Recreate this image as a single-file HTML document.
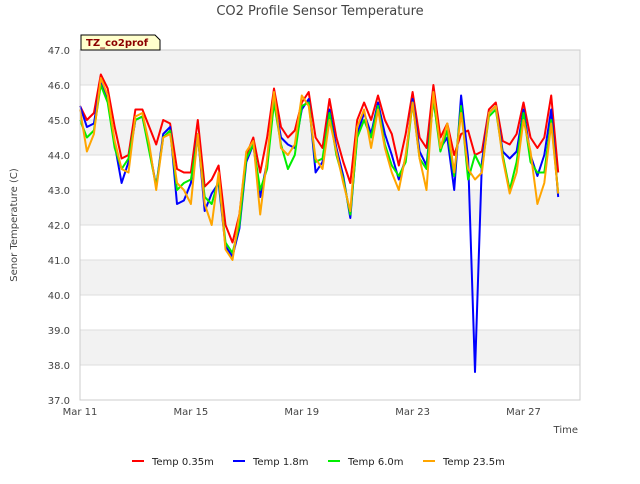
<!DOCTYPE html>
<html><head><meta charset="utf-8"><style>
body{margin:0;background:#fff;font-family:"DejaVu Sans",sans-serif}
</style></head><body>
<svg id="chart" width="640" height="480" xmlns="http://www.w3.org/2000/svg" font-family="DejaVu Sans, sans-serif">
<text x="320" y="15" text-anchor="middle" font-size="13" fill="#444">CO2 Profile Sensor Temperature</text>
<g id="bands"></g>
<g id="yticks"></g>
<g id="xticks"></g>
<g id="series"></g>
<rect x="80" y="50" width="500" height="350" fill="none" stroke="#ccc"/>
<text x="17" y="225" transform="rotate(-90 17 225)" text-anchor="middle" font-size="10" fill="#444">Senor Temperature (C)</text>
<text x="578" y="433" text-anchor="end" font-size="10" fill="#444">Time</text>
<g>
<path d="M81,50 L81,35 L155,35 L160,40 L160,50 Z" fill="#ffffcc" stroke="#000"/>
<text x="86" y="46" font-size="10" font-weight="bold" fill="#8b0000">TZ_co2prof</text>
</g>
<g id="legend"></g>
</svg>
<script>
const days=[];for(let i=0;i<70;i++)days.push(i*0.25);
const temp035=[45.4,45.0,45.2,46.3,45.9,44.8,43.9,44.0,45.3,45.3,44.8,44.3,45.0,44.9,43.6,43.5,43.5,45.0,43.1,43.3,43.7,42.0,41.5,42.3,44.0,44.5,43.5,44.5,45.9,44.8,44.5,44.7,45.5,45.8,44.5,44.2,45.6,44.5,43.8,43.2,45.0,45.5,45.0,45.7,45.0,44.6,43.7,44.6,45.8,44.5,44.2,46.0,44.5,44.9,44.0,44.6,44.7,44.0,44.1,45.3,45.5,44.4,44.3,44.6,45.5,44.5,44.2,44.5,45.7,43.5];
const temp18=[45.4,44.8,44.9,46.1,45.6,44.3,43.2,43.8,45.0,45.1,44.2,43.1,44.6,44.8,42.6,42.7,43.2,44.6,42.4,42.9,43.2,41.4,41.1,41.9,43.8,44.3,42.8,43.8,45.6,44.5,44.3,44.2,45.3,45.6,43.5,43.8,45.3,44.2,43.4,42.2,44.6,45.2,44.6,45.5,44.6,44.0,43.3,43.9,45.6,44.1,43.7,45.6,44.2,44.5,43.0,45.7,43.9,37.8,43.8,45.2,45.4,44.1,43.9,44.1,45.3,44.0,43.4,44.0,45.3,42.8];
const temp60=[45.0,44.5,44.7,46.0,45.5,44.2,43.6,43.9,45.0,45.1,44.1,43.1,44.5,44.7,43.0,43.2,43.3,44.5,42.8,42.6,43.3,41.5,41.2,42.0,43.9,44.3,43.0,43.6,45.5,44.3,43.6,44.0,45.4,45.5,43.8,43.9,45.2,44.0,43.3,42.3,44.5,45.0,44.5,45.4,44.3,43.7,43.4,43.8,45.5,43.9,43.6,45.6,44.1,44.7,43.4,45.4,43.3,44.0,43.6,45.1,45.3,44.0,43.0,43.8,45.2,43.8,43.5,43.5,45.0,42.9];
const temp235=[45.3,44.1,44.6,46.2,45.7,44.4,43.6,43.5,45.1,45.2,44.3,43.0,44.5,44.6,43.2,43.0,42.6,44.6,42.6,42.0,43.5,41.3,41.0,42.3,44.1,44.4,42.3,43.9,45.8,44.2,44.0,44.3,45.7,45.4,43.9,43.6,45.0,44.1,43.2,42.4,44.8,45.3,44.2,45.3,44.2,43.5,43.0,44.0,45.5,43.9,43.0,45.8,44.2,44.9,43.5,45.2,43.6,43.3,43.5,45.2,45.4,43.9,42.9,43.5,45.0,44.1,42.6,43.2,44.9,42.9];
const yTicks=[37,38,39,40,41,42,43,44,45,46,47];
const xTickLabels=["Mar 11","Mar 15","Mar 19","Mar 23","Mar 27"];
const xTickDays=[0,4,8,12,16];
const seriesNames=["Temp 0.35m","Temp 1.8m","Temp 6.0m","Temp 23.5m"];
const seriesColors=["#ff0000","#0000ff","#00ee00","#ffa500"];
const X=d=>80+d*27.72, Y=v=>50+(47-v)*35;
const NS="http://www.w3.org/2000/svg";
function mk(t,a,p){const e=document.createElementNS(NS,t);for(const k in a)e.setAttribute(k,a[k]);p.appendChild(e);return e;}
const bands=document.getElementById('bands');
for(let v=47;v>37;v--){if((47-v)%2===0){const r=mk('rect',{x:80,y:Y(v),width:500,height:35,fill:'#f2f2f2'},bands);

}}
const yt=document.getElementById('yticks');
yTicks.forEach(v=>{const l=mk('line',{x1:80,x2:580,y1:Y(v),y2:Y(v),stroke:'#ddd'},yt);


const t=mk('text',{x:70,y:Y(v)+4,'text-anchor':'end','font-size':10,fill:'#444'},yt);t.textContent=v.toFixed(1);

});
const xt=document.getElementById('xticks');
xTickDays.forEach((d,i)=>{const t=mk('text',{x:X(d),y:415,'text-anchor':'middle','font-size':10,fill:'#444'},xt);t.textContent=xTickLabels[i];

});
const sg=document.getElementById('series');
[temp035,temp18,temp60,temp235].forEach((arr,i)=>{const pts=arr.map((v,j)=>X(days[j]).toFixed(1)+','+Y(v).toFixed(1)).join(' ');
const p=mk('polyline',{points:pts,fill:'none',stroke:seriesColors[i],'stroke-width':2,'stroke-linejoin':'round'},sg);

});
const lg=document.getElementById('legend');
const lxs=[132,233,328,423];
seriesNames.forEach((n,i)=>{const g=mk('g',{},lg);


mk('line',{x1:lxs[i],x2:lxs[i]+12,y1:461,y2:461,stroke:seriesColors[i],'stroke-width':2},g);
const t=mk('text',{x:lxs[i]+20,y:465,'font-size':10,fill:'#222'},g);t.textContent=n;});
</script>
</body></html>
